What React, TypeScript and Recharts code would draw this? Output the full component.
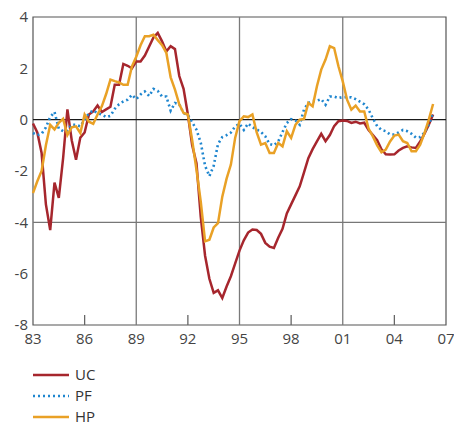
import { LineChart, Line, XAxis, YAxis, ReferenceLine, ReferenceArea } from "recharts";

// quarterly, starting 1983 Q1
const START_YEAR = 1983;

const UC = [
  -0.15, -0.5, -1.3, -3.3,
  -4.3, -2.45, -3.05, -1.5,
  0.4, -0.8, -1.56, -0.7,
  -0.5, 0.2, 0.32, 0.55,
  0.3, 0.4, 0.5, 1.36,
  1.36, 2.17, 2.1, 2.0,
  2.27, 2.27, 2.5, 2.85,
  3.2, 3.38, 3.05, 2.66,
  2.86, 2.75, 1.7, 1.2,
  0.2, -1.0, -1.7, -3.8,
  -5.3, -6.2, -6.75, -6.65,
  -6.95, -6.5, -6.1, -5.6,
  -5.1, -4.7, -4.4, -4.28,
  -4.3, -4.45, -4.8, -4.95,
  -5.0, -4.6, -4.25, -3.65,
  -3.3, -2.95, -2.6, -2.05,
  -1.5, -1.15, -0.85, -0.55,
  -0.84, -0.6, -0.25, -0.06,
  -0.03, -0.05, -0.13, -0.08,
  -0.15, -0.12, -0.4, -0.6,
  -0.8, -1.15, -1.35, -1.36,
  -1.35, -1.2, -1.1, -1.04,
  -1.08, -1.1, -0.85, -0.55,
  -0.2, 0.2,
];

const PF = [
  -0.52, -0.6, -0.55, -0.3,
  0.1, 0.3, -0.35, -0.45,
  -0.42, -0.2, -0.2, -0.26,
  0.0, 0.25, 0.36, 0.25,
  0.2, 0.1, 0.15, 0.42,
  0.6, 0.71, 0.78, 0.97,
  0.8, 0.98, 1.1, 0.92,
  1.2, 1.12, 0.9, 0.9,
  0.35, 0.65, 0.6, 0.25,
  0.18, -0.1, -0.39, -0.9,
  -1.8, -2.2, -1.8, -0.95,
  -0.68, -0.6, -0.5, -0.26,
  -0.16, -0.4, -0.15, -0.3,
  -0.38, -0.48, -0.65, -0.95,
  -1.0, -0.85, -0.48, -0.13,
  0.02, -0.03, -0.2, 0.4,
  0.65, 0.72, 0.74, 0.8,
  0.58, 0.9, 0.9, 0.84,
  0.88, 0.88, 0.87, 0.8,
  0.7, 0.6, 0.39, 0.05,
  -0.25, -0.4, -0.45, -0.58,
  -0.58, -0.5, -0.4, -0.45,
  -0.55, -0.7, -0.68, -0.5,
  -0.2, 0.26,
];

const HP = [
  -2.86, -2.4, -2.0, -1.0,
  -0.2, -0.38, -0.12, 0.03,
  -0.6, -0.3, -0.26, -0.52,
  0.2, -0.08, -0.16, 0.2,
  0.52, 1.0, 1.56, 1.5,
  1.45, 1.36, 1.36, 2.08,
  2.45, 2.9, 3.25, 3.25,
  3.31, 3.1, 2.9, 2.6,
  1.65, 1.17, 0.6, 0.26,
  0.2, -0.8, -1.95, -3.2,
  -4.74, -4.68, -4.2, -4.03,
  -3.0, -2.3, -1.75, -0.7,
  -0.06, 0.13, 0.1, 0.2,
  -0.5, -0.97, -0.91, -1.3,
  -1.3, -0.91, -1.04, -0.45,
  -0.71, -0.2, 0.0, 0.03,
  0.65, 0.52, 1.3, 1.95,
  2.34, 2.86, 2.79, 2.08,
  1.49, 0.78, 0.39, 0.55,
  0.32, 0.32, -0.35, -0.65,
  -1.0, -1.27, -1.17, -0.85,
  -0.62, -0.58, -0.84, -0.91,
  -1.23, -1.23, -0.97, -0.52,
  0.0, 0.61,
];

const X_TICKS = [1983, 1986, 1989, 1992, 1995, 1998, 2001, 2004, 2007];
const X_INNER_TICKS = [1986, 1992, 1998, 2004];
const X_GRID = [1989, 1995, 2001];
const Y_TICKS = [-8, -6, -4, -2, 0, 2, 4];
const Y_INNER_TICKS = [-6, -2, 2];

const SERIES = [
  { key: "UC", color: "#a6262d", dash: undefined },
  { key: "PF", color: "#1f86cf", dash: "2 3" },
  { key: "HP", color: "#e9a126", dash: undefined },
];

const data = UC.map((v, i) => ({
  t: START_YEAR + i / 4,
  UC: v,
  PF: PF[i],
  HP: HP[i],
}));

const FONT = "'Open Sans', 'Noto Sans', sans-serif";
const TEXT = "#444";

export default function App() {
  const yr = (v: number) => String(v % 100).padStart(2, "0");
  return (
    <div style={{ position: "absolute", left: 0, top: 0, width: 454, height: 428, background: "#fff", overflow: "hidden" }}>
      <LineChart
        width={454}
        height={352}
        data={data}
        margin={{ top: 17, right: 8, bottom: 0, left: 0 }}
      >
        <XAxis
          dataKey="t"
          type="number"
          domain={[1983, 2007]}
          ticks={X_TICKS}
          tickFormatter={yr}
          axisLine={false}
          tickLine={false}
          tickSize={0}
          tickMargin={8}
          height={27}
          interval={0}
          tick={{ fontSize: 15, fill: TEXT, fontFamily: FONT }}
        />
        <XAxis
          xAxisId="inner"
          dataKey="t"
          type="number"
          domain={[1983, 2007]}
          ticks={X_INNER_TICKS}
          tickFormatter={() => ""}
          mirror
          axisLine={false}
          tickSize={10}
          tickLine={{ stroke: "#666", strokeWidth: 1.3 }}
        />
        <YAxis
          domain={[-8, 4]}
          ticks={Y_TICKS}
          width={33}
          axisLine={false}
          tickLine={false}
          tickSize={0}
          tickMargin={5}
          interval={0}
          tick={{ fontSize: 15, fill: TEXT, fontFamily: FONT }}
        />
        <YAxis
          yAxisId="innerL"
          domain={[-8, 4]}
          ticks={Y_INNER_TICKS}
          mirror
          tickFormatter={() => ""}
          axisLine={false}
          tickSize={10}
          tickLine={{ stroke: "#666", strokeWidth: 1.3 }}
        />
        <YAxis
          yAxisId="innerR"
          orientation="right"
          domain={[-8, 4]}
          ticks={Y_INNER_TICKS}
          mirror
          tickFormatter={() => ""}
          axisLine={false}
          tickSize={10}
          tickLine={{ stroke: "#666", strokeWidth: 1.3 }}
        />
        {X_GRID.map((x) => (
          <ReferenceLine key={x} x={x} stroke="#7a7a7a" strokeWidth={1.3} />
        ))}
        <ReferenceLine y={0} stroke="#1a1a1a" strokeWidth={1.2} />
        <ReferenceLine y={-4} stroke="#777" strokeWidth={1.4} />
        <ReferenceArea x1={1983} x2={2007} y1={-8} y2={4} fill="none" stroke="#555" strokeWidth={1.2} />
        {SERIES.map((s) => (
          <Line
            key={s.key}
            dataKey={s.key}
            type="linear"
            stroke={s.color}
            strokeWidth={s.dash ? 2.6 : 2.5}
            strokeDasharray={s.dash}
            dot={false}
            activeDot={false}
            isAnimationActive={false}
          />
        ))}
      </LineChart>
      <div style={{ position: "absolute", left: 33, top: 364, fontFamily: FONT, fontSize: 15, lineHeight: "21px", color: "#333" }}>
        {SERIES.map((s) => (
          <div key={s.key} style={{ display: "flex", alignItems: "center", height: 21 }}>
            <svg width={36} height={6} style={{ marginRight: 6 }}>
              <line x1={0} y1={3} x2={36} y2={3} stroke={s.color} strokeWidth={2.5} strokeDasharray={s.dash} />
            </svg>
            <span>{s.key}</span>
          </div>
        ))}
      </div>
    </div>
  );
}
